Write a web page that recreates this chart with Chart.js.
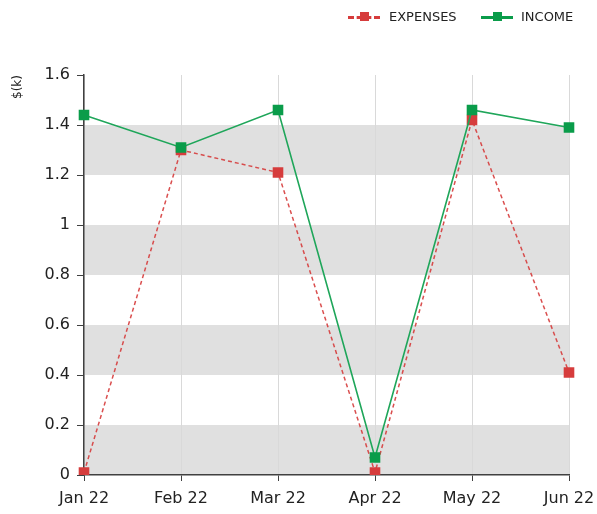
<!DOCTYPE html>
<html><head><meta charset="utf-8">
<script src="https://cdn.jsdelivr.net/npm/chart.js@4/dist/chart.umd.min.js"></script>
<style>
body{margin:0;background:#fff;}
#wrap{position:relative;width:597px;height:514px;}
#c{position:absolute;left:0;top:0;}
.lg{position:absolute;top:9px;height:16px;font:13px 'DejaVu Sans',sans-serif;color:#222;line-height:16px;}
.sym{position:absolute;top:7px;width:32px;height:0;}
.sq{position:absolute;top:3px;left:12px;width:9px;height:9px;}
.txt{position:absolute;top:0;white-space:nowrap;}
</style></head>
<body>
<div id="wrap">
<canvas id="c" width="597" height="514"></canvas>
<div class="lg" style="left:348px;">
  <div class="sym" style="border-top:3px dashed #d63c3c;"></div>
  <div class="sq" style="background:#d63c3c;"></div>
  <div class="txt" style="left:41px;">EXPENSES</div>
</div>
<div class="lg" style="left:481px;">
  <div class="sym" style="border-top:3px solid #0a9c4a;"></div>
  <div class="sq" style="background:#0a9c4a;"></div>
  <div class="txt" style="left:40px;">INCOME</div>
</div>
</div>
<script>
const categories = ['Jan 22','Feb 22','Mar 22','Apr 22','May 22','Jun 22'];
const expenses = [0.01, 1.30, 1.21, 0.01, 1.42, 0.41];
const income   = [1.44, 1.31, 1.46, 0.07, 1.46, 1.39];
const yTickLabels = ['0','0.2','0.4','0.6','0.8','1','1.2','1.4','1.6'];
const bands = [[0,0.2],[0.4,0.6],[0.8,1.0],[1.2,1.4]];

const bandPlugin = {
  id:'bands',
  beforeDraw(chart){
    const {ctx, chartArea:a, scales:{y}} = chart;
    ctx.save();
    ctx.fillStyle = '#e0e0e0';
    bands.forEach(([lo,hi])=>{
      const y1 = y.getPixelForValue(hi), y2 = y.getPixelForValue(lo);
      ctx.fillRect(a.left, y1, a.right-a.left, y2-y1);
    });
    ctx.restore();
  }
};

new Chart(document.getElementById('c'), {
  type:'line',
  data:{
    labels:categories,
    datasets:[
      {label:'EXPENSES', data:expenses, borderColor:'rgba(214,60,60,0.9)', backgroundColor:'#d63c3c',
       borderWidth:1.5, borderDash:[4,3], pointStyle:'rect', pointRadius:7.5, pointHoverRadius:7.5,
       pointBorderWidth:0, pointBackgroundColor:'#d63c3c', tension:0, order:1},
      {label:'INCOME', data:income, borderColor:'#1fa65a', backgroundColor:'#0a9c4a',
       borderWidth:1.6, pointStyle:'rect', pointRadius:7.5, pointHoverRadius:7.5,
       pointBorderWidth:0, pointBackgroundColor:'#0a9c4a', tension:0, order:0}
    ]
  },
  options:{
    responsive:false, animation:false,
    layout:{padding:{left:0,right:28,top:75,bottom:0}},
    plugins:{legend:{display:false}, tooltip:{enabled:false}},
    scales:{
      x:{
        offset:false,
        grid:{color:'#d9d9d9', lineWidth:1, tickColor:'#404040', tickLength:6, drawOnChartArea:true},
        border:{color:'#404040', width:1.5},
        ticks:{color:'#222', font:{family:'DejaVu Sans', size:16}, padding:8, maxRotation:0},
        afterFit(s){ s.height = 39; s.paddingRight = 0; s.paddingLeft = 0; }
      },
      y:{
        min:0, max:1.6,
        grid:{drawOnChartArea:false, tickColor:'#404040', tickLength:7},
        border:{color:'#404040', width:1.5},
        ticks:{stepSize:0.2, color:'#222', font:{family:'DejaVu Sans', size:16}, padding:7,
               callback:(v,i)=>yTickLabels[i]},
        title:{display:true, text:'$(k)', align:'end', color:'#222', font:{family:'DejaVu Sans', size:12}, padding:{top:11,bottom:0}},
        afterFit(s){ s.width = 84; }
      }
    }
  },
  plugins:[bandPlugin]
});
</script>
</body></html>
